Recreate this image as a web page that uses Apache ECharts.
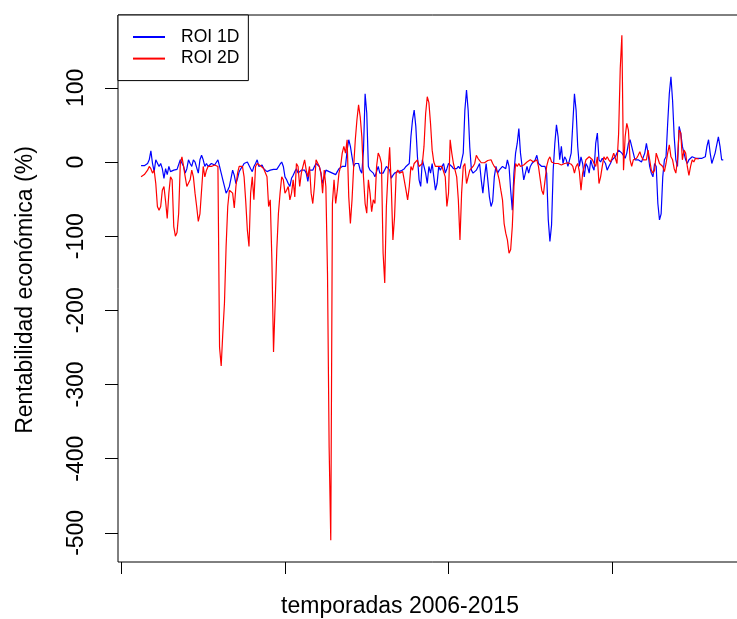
<!DOCTYPE html>
<html><head><meta charset="utf-8">
<script src="https://cdn.jsdelivr.net/npm/echarts@6/dist/echarts.min.js"></script>
<style>html,body{margin:0;padding:0;background:#fff;overflow:hidden;width:737px;height:619px}#c{width:750px;height:619px}</style>
</head><body><div id="c"></div>
<script>
// x = match-week index over the 2006-2015 seasons (first observation at week 12)
const firstWeek = 12;
const xTicks = [0, 100, 200, 300];
const yTicks = [-500, -400, -300, -200, -100, 0, 100];
const seriesNames = ['ROI 1D', 'ROI 2D'];

// ROI 1D (blue)
const roi1D = [
  -5,-6,-5,-6,-2,3,15,-2,-13,3,5,-6,-2,-9,-22,-9,-17,-6,-13,-12,-11,-11,-10,-9,3,5,-6,-15,-9,3,-2,-6,3,0,-2,-15,3,9,3,-6,-2,-6,-4,-2,-3,-4,-6,3,-6,-15,-24,-33,-42,-38,-33,-22,-11,-18,-29,-22,
  -13,-9,-6,-2,-2,0,0,-9,-13,-6,-2,3,-6,-5,-4,-9,-11,-13,-15,-11,-9,-10,-11,-10,-9,-3,0,-6,-20,-24,-29,-33,-22,-18,-13,-9,-15,-13,-11,-9,-11,-15,-26,-11,-11,-11,-6,-2,-4,-6,-15,-29,-20,-11,-12,-13,-14,-15,-16,-17,-13,-9,-7,-6,-6,-6,16,30,21,7,-6,-2,-2,
  -2,-11,-15,16,92,66,-6,-11,-11,-15,-20,-13,-6,-15,-15,-15,-15,-6,-4,-11,-22,-18,-15,-13,-13,-13,-12,-11,-9,-6,-4,-2,34,57,70,48,7,-24,-33,3,-6,-15,-29,-6,-15,-2,-20,-38,-29,-6,-11,-6,-2,-15,-9,-2,-4,-6,-9,-11,-9,-6,-9,-11,12,70,97,70,20,-11,-15,-13,-11,-9,
  -2,-24,-42,-20,-2,-24,-47,-60,-53,-20,-6,-15,-11,-9,-6,-4,-9,3,-6,-38,-65,-15,12,25,45,12,-6,-24,-15,-6,-15,-6,-2,0,3,9,-2,-4,-6,-6,-6,-15,-78,-107,-85,-11,25,50,34,3,21,-2,7,3,-6,3,12,52,92,70,21,-6,7,-2,-20,-2,-6,-15,3,-6,-11,25,39,
  3,0,5,7,-2,-11,-6,-2,3,5,7,12,16,14,12,14,5,12,25,30,21,12,3,3,3,2,0,6,12,25,12,-6,-15,-20,-2,-6,-56,-78,-70,-20,3,7,52,92,115,83,34,3,-6,48,39,21,12,3,-2,3,5,7,6,5,5,5,5,5,6,7,21,30,12,-2,0,12,23,34,21,3,3
];

// ROI 2D (red)
const roi2D = [
  -20,-19,-17,-14,-11,-6,-9,-15,-11,-29,-60,-65,-60,-38,-33,-53,-76,-42,-20,-24,-87,-100,-95,-69,-2,7,-6,-20,-33,-35,-24,-11,-20,-42,-60,-80,-70,-38,-6,-20,-11,-6,-6,-6,-6,-4,-2,-6,-250,-275,-230,-190,-114,-60,-38,-40,-42,-62,-33,-15,
  -6,-6,-6,-20,-53,-92,-114,-42,-20,-51,-6,-2,-4,-5,-6,-9,-11,-20,-60,-51,-132,-256,-190,-118,-69,-42,-20,-24,-42,-38,-33,-51,-42,-24,-47,-2,-6,-33,-15,-6,3,-11,-20,-6,-42,-56,-33,3,3,-6,-15,-42,-11,-33,-150,-385,-510,-56,-24,-56,-38,-15,-6,12,21,12,30,-47,-83,-51,-6,30,57,
  77,61,34,-20,-56,-69,-24,-42,-67,-51,-56,-6,12,7,-2,-123,-163,-60,-15,20,-33,-105,-74,-15,-11,-15,-14,-13,-15,-38,-51,-33,-6,-11,-2,0,3,-6,-4,-2,21,65,88,80,52,16,0,-6,-6,-6,-6,-6,-6,-20,-60,-42,30,12,-2,-11,-20,-51,-105,-42,-6,-2,-29,-20,-11,-9,-6,-2,9,5,
  3,-1,-2,-1,0,2,3,3,-2,-6,-9,-15,-24,-38,-51,-83,-96,-105,-123,-118,-87,-33,-2,-6,-2,-6,-5,-4,-2,0,2,3,2,0,2,3,-6,-22,-38,-44,-42,-6,3,7,0,-2,-2,-2,-2,-3,-4,-6,-2,-2,-1,0,-3,-6,-15,-6,-2,-13,-38,-15,-6,3,5,7,5,3,-2,-6,7,
  -29,-20,-6,7,3,7,3,0,5,12,5,-2,38,126,171,-11,34,52,43,3,-6,3,4,5,9,14,7,3,3,3,16,3,-11,-15,-11,12,5,-2,-4,-6,-13,-2,12,23,7,3,-9,-15,3,43,39,3,16,12,-6,-18,-6,3,0,5,3,4
];

const FONT = '"Liberation Sans", Arial, sans-serif';
const toPairs = arr => arr.map((v, i) => [firstWeek + i, v]);

const chart = echarts.init(document.getElementById('c'), null, {renderer: 'canvas', width: 750, height: 619});
chart.setOption({
  animation: false,
  backgroundColor: '#fff',
  grid: {left: 118, top: 15, width: 628.5, height: 547, show: true, borderColor: '#000', borderWidth: 1, backgroundColor: 'transparent'},
  legend: {
    orient: 'vertical', left: 118, top: 15,
    padding: [13, 9, 13, 15], itemGap: 3.6, itemWidth: 32, itemHeight: 2, icon: 'rect',
    borderColor: '#000', borderWidth: 1, backgroundColor: '#fff',
    textStyle: {fontSize: 17.5, fontFamily: FONT, color: '#000', padding: [0, 0, 0, 11]},
    data: seriesNames
  },
  xAxis: {
    type: 'value', min: -2.1, max: 382.2,
    axisLine: {show: false, onZero: false},
    axisTick: {show: true, customValues: xTicks, length: 12, lineStyle: {color: '#000', width: 1}},
    axisLabel: {show: false, customValues: xTicks},
    splitLine: {show: false}
  },
  yAxis: {
    type: 'value', min: -539.3, max: 198.2,
    axisLine: {show: false, onZero: false},
    axisTick: {show: true, customValues: yTicks, length: 13, lineStyle: {color: '#000', width: 1}},
    axisLabel: {customValues: yTicks, rotate: 90, margin: 30, fontSize: 23, fontFamily: FONT, color: '#000'},
    splitLine: {show: false}
  },
  graphic: [
    {type: 'text', x: 400, y: 607, style: {text: 'temporadas 2006-2015', align: 'center', verticalAlign: 'middle', fontSize: 23, fontFamily: FONT, fill: '#000'}},
    {type: 'text', x: 26, y: 290, rotation: Math.PI / 2, style: {text: 'Rentabilidad económica (%)', align: 'center', verticalAlign: 'middle', fontSize: 23, fontFamily: FONT, fill: '#000'}}
  ],
  series: [
    {name: seriesNames[0], type: 'line', data: toPairs(roi1D), showSymbol: false, symbol: 'none', color: '#0000FF', lineStyle: {width: 1.2, color: '#0000FF'}, z: 2},
    {name: seriesNames[1], type: 'line', data: toPairs(roi2D), showSymbol: false, symbol: 'none', color: '#FF0000', lineStyle: {width: 1.2, color: '#FF0000'}, z: 3}
  ]
});
</script></body></html>
